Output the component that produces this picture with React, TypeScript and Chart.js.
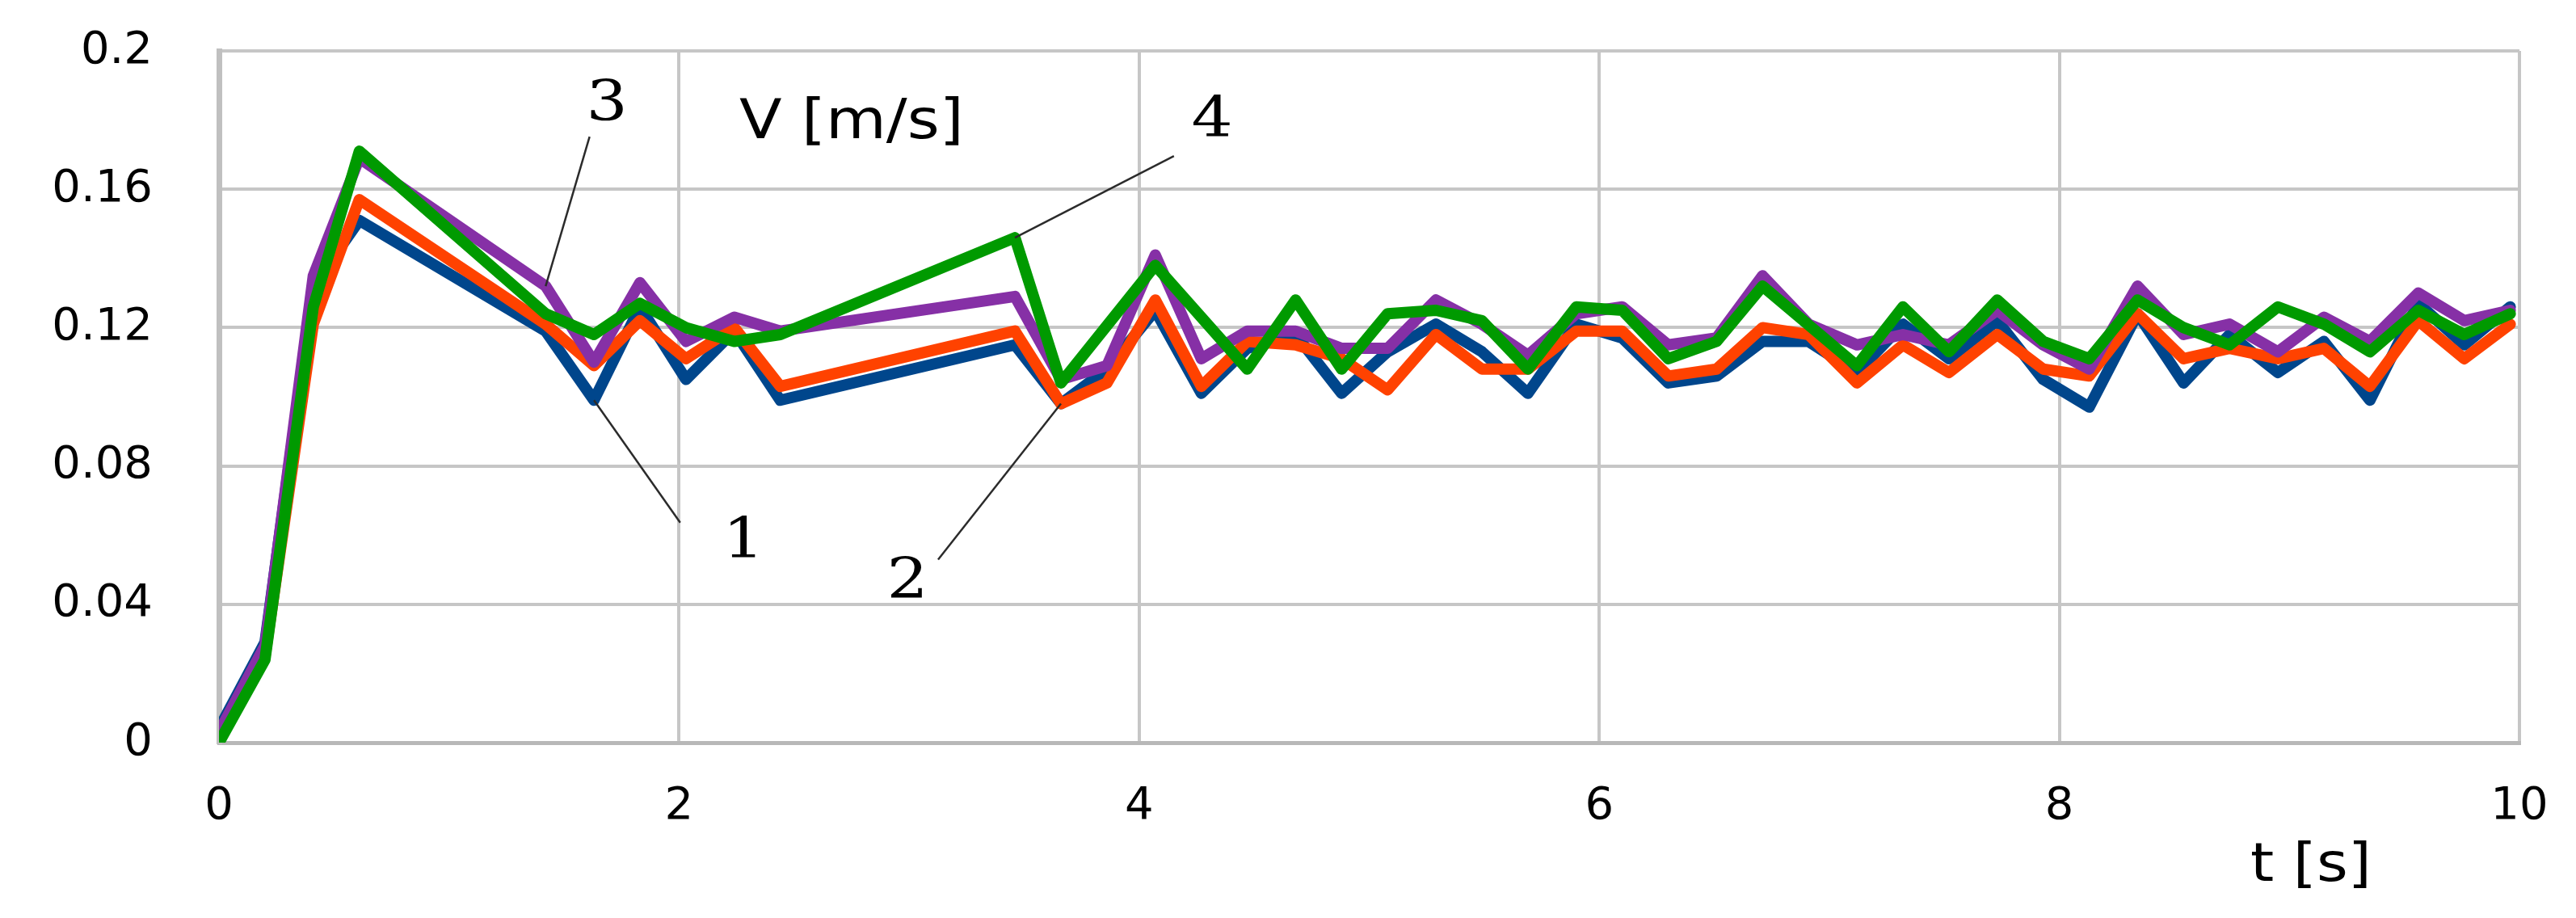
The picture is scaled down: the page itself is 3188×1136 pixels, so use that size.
import React, { useEffect, useRef } from "react";
import { Chart, registerables } from "chart.js";

Chart.register(...registerables);

// time samples [s] that carry a value in at least one series
const T = [
  0, 0.2, 0.41, 0.61, 1.42, 1.63, 1.83, 2.03, 2.24, 2.44,
  3.46, 3.66, 3.86, 4.07, 4.27, 4.47, 4.68, 4.88, 5.08, 5.29,
  5.49, 5.69, 5.9, 6.1, 6.3, 6.51, 6.71, 6.91, 7.12, 7.32,
  7.52, 7.73, 7.93, 8.13, 8.34, 8.54, 8.74, 8.95, 9.15, 9.35,
  9.56, 9.76, 9.96,
];

// series 1 (blue)
const V1 = [
  0.004, 0.029, 0.132, 0.151, 0.119, 0.099, 0.126, 0.105, 0.119, 0.099,
  0.115, 0.098, 0.108, 0.125, 0.101, 0.114, 0.118, 0.101, 0.113, 0.121,
  0.113, 0.101, 0.121, 0.117, 0.104, 0.106, 0.116, 0.116, 0.107, 0.121,
  0.111, 0.122, 0.105, 0.097, 0.124, 0.104, 0.118, 0.107, 0.116, 0.099,
  0.127, 0.115, 0.126,
];

// series 2 (orange-red)
const V2 = [
  0.001, 0.025, 0.121, 0.157, 0.121, 0.109, 0.122, 0.111, 0.12, 0.103,
  0.119, 0.098, 0.104, 0.128, 0.103, 0.116, 0.115, 0.111, 0.102, 0.118,
  0.108, 0.108, 0.119, 0.119, 0.106, 0.108, 0.12, 0.118, 0.104, 0.115,
  0.107, 0.118, 0.108, 0.106, 0.124, 0.111, 0.114, 0.111, 0.114, 0.103,
  0.122, 0.111, 0.121,
];

// series 3 (purple)
const V3 = [
  0.003, 0.028, 0.135, 0.169, 0.132, 0.11, 0.133, 0.116, 0.123, 0.119,
  0.129, 0.105, 0.109, 0.141, 0.111, 0.119, 0.119, 0.114, 0.114, 0.128,
  0.121, 0.112, 0.124, 0.126, 0.115, 0.117, 0.135, 0.121, 0.115, 0.118,
  0.115, 0.125, 0.115, 0.108, 0.132, 0.118, 0.121, 0.113, 0.123, 0.116,
  0.13, 0.122, 0.125,
];

// series 4 (green)
const V4 = [
  0, 0.024, 0.126, 0.171, 0.124, 0.118, 0.127, 0.12, 0.116, 0.118,
  0.146, 0.104, null, 0.138, null, 0.108, 0.128, 0.108, 0.124, 0.125,
  0.122, 0.108, 0.126, 0.125, 0.111, 0.116, 0.132, null, 0.109, 0.126,
  0.113, 0.128, 0.116, 0.111, 0.128, 0.12, 0.115, 0.126, 0.121, 0.113,
  0.125, 0.118, 0.124,
];

const SERIES = [V1, V2, V3, V4];
const SERIES_NAMES = ["1", "2", "3", "4"];
const SERIES_COLORS = ["#00468C", "#FF4200", "#8630A6", "#009A00"];

const X_TICKS = [0, 2, 4, 6, 8, 10];
const X_TICK_LABELS = ["0", "2", "4", "6", "8", "10"];
const Y_TICKS = [0, 0.04, 0.08, 0.12, 0.16, 0.2];
const Y_TICK_LABELS = ["0", "0.04", "0.08", "0.12", "0.16", "0.2"];

const Y_TITLE = "V [m/s]";
const X_TITLE = "t [s]";

// callout labels: text position and leader-line start in data units, end at a data point
const CALLOUT_TEXT = ["3", "1", "2", "4"];
const CALLOUT_SERIES = [2, 0, 1, 3];
const CALLOUT_INDEX = [4, 5, 11, 10];
const CALLOUT_LABEL_T = [1.686, 2.28, 2.993, 4.317];
const CALLOUT_LABEL_V = [0.1842, 0.0577, 0.046, 0.1795];
const CALLOUT_LINE_T = [1.611, 2.005, 3.126, 4.151];
const CALLOUT_LINE_V = [0.1752, 0.0636, 0.0529, 0.1696];

function drawStretched(ctx: CanvasRenderingContext2D, text: string, x: number, y: number, sx: number) {
  ctx.save();
  ctx.translate(x, y);
  ctx.scale(sx, 1);
  ctx.fillText(text, 0, 0);
  ctx.restore();
}

const annotationPlugin = {
  id: "annotations",
  afterDatasetsDraw(chart: any) {
    const { ctx, scales, chartArea } = chart;
    const xs = scales.x;
    const ys = scales.y;
    ctx.save();
    // leader lines
    ctx.strokeStyle = "#2b2b2b";
    ctx.lineWidth = 2.5;
    ctx.lineCap = "butt";
    for (let i = 0; i < CALLOUT_TEXT.length; i++) {
      const s = SERIES[CALLOUT_SERIES[i]];
      const idx = CALLOUT_INDEX[i];
      const px = xs.getPixelForValue(T[idx]);
      const py = ys.getPixelForValue(s[idx] as number);
      ctx.beginPath();
      ctx.moveTo(xs.getPixelForValue(CALLOUT_LINE_T[i]), ys.getPixelForValue(CALLOUT_LINE_V[i]));
      ctx.lineTo(px, py);
      ctx.stroke();
    }
    // callout numbers
    ctx.fillStyle = "#000";
    ctx.font = "70px 'DejaVu Serif'";
    ctx.textAlign = "center";
    ctx.textBaseline = "middle";
    for (let i = 0; i < CALLOUT_TEXT.length; i++) {
      drawStretched(
        ctx,
        CALLOUT_TEXT[i],
        xs.getPixelForValue(CALLOUT_LABEL_T[i]),
        ys.getPixelForValue(CALLOUT_LABEL_V[i]),
        1.15
      );
    }
    // axis titles
    ctx.font = "68px 'DejaVu Sans'";
    ctx.textAlign = "left";
    ctx.textBaseline = "alphabetic";
    drawStretched(ctx, Y_TITLE, xs.getPixelForValue(2.262), ys.getPixelForValue(0.1748), 1.13);
    ctx.font = "66px 'DejaVu Sans'";
    drawStretched(ctx, X_TITLE, xs.getPixelForValue(8.83), chartArea.bottom + 171, 1.13);
    ctx.restore();
  },
};

export default function App() {
  const ref = useRef<HTMLCanvasElement | null>(null);

  useEffect(() => {
    if (!ref.current) return;
    const datasets = SERIES.map((vals, si) => ({
      label: SERIES_NAMES[si],
      data: T.map((t, i) => ({ x: t, y: vals[i] })),
      borderColor: SERIES_COLORS[si],
      backgroundColor: SERIES_COLORS[si],
      borderWidth: 14,
      pointRadius: 0,
      pointHoverRadius: 0,
      tension: 0,
      spanGaps: true,
      borderJoinStyle: "round" as const,
      borderCapStyle: "round" as const,
      fill: false,
      order: 3 - si,
    }));

    const chart = new Chart(ref.current, {
      type: "line",
      data: { datasets },
      options: {
        animation: false,
        responsive: false,
        devicePixelRatio: 1,
        events: [],
        layout: { padding: { left: 0, top: 63, right: 70, bottom: 0 } },
        plugins: {
          legend: { display: false },
          tooltip: { enabled: false },
          title: { display: false },
        },
        scales: {
          x: {
            type: "linear",
            min: 0,
            max: 10,
            afterBuildTicks: (scale: any) => {
              scale.ticks = X_TICKS.map((v) => ({ value: v }));
            },
            afterFit: (scale: any) => {
              scale.height = 217;
            },
            ticks: {
              callback: (_v: any, i: number) => X_TICK_LABELS[i],
              font: { family: "'DejaVu Sans'", size: 56 },
              color: "#000",
              padding: 0,
              maxRotation: 0,
              autoSkip: false,
            },
            grid: {
              color: "#c6c6c6",
              lineWidth: 4,
              drawTicks: true,
              tickLength: 46,
              tickColor: "rgba(0,0,0,0)",
            },
            border: { display: true, color: "#b8b8b8", width: 5 },
          },
          y: {
            min: 0,
            max: 0.2,
            afterBuildTicks: (scale: any) => {
              scale.ticks = Y_TICKS.map((v) => ({ value: v }));
            },
            afterFit: (scale: any) => {
              scale.width = 271;
            },
            ticks: {
              callback: (_v: any, i: number) => Y_TICK_LABELS[i],
              font: { family: "'DejaVu Sans'", size: 56 },
              color: "#000",
              padding: 0,
              autoSkip: false,
            },
            grid: {
              color: "#c6c6c6",
              lineWidth: 4,
              drawTicks: true,
              tickLength: 82,
              tickColor: "rgba(0,0,0,0)",
            },
            border: { display: true, color: "#c0c0c0", width: 7 },
          },
        },
      },
      plugins: [annotationPlugin],
    } as any);

    return () => chart.destroy();
  }, []);

  return (
    <div style={{ position: "absolute", left: 0, top: 0, width: 3188, height: 1136, background: "#fff" }}>
      <canvas ref={ref} width={3188} height={1136} style={{ display: "block" }} />
    </div>
  );
}
